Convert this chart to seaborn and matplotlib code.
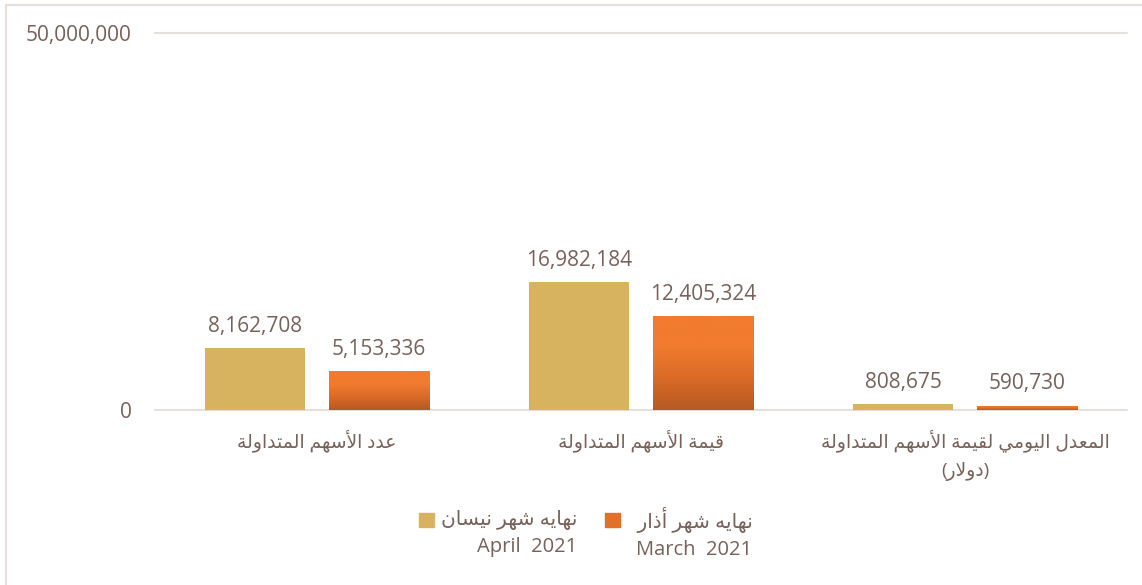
import numpy as np
import pandas as pd
import seaborn as sns
import matplotlib.pyplot as plt
import matplotlib.patches as mpatches
from matplotlib.lines import Line2D
from matplotlib.colors import LinearSegmentedColormap
from matplotlib.legend_handler import HandlerPatch

# data
categories = ['عدد الأسهم المتداولة',
              'قيمة الأسهم المتداولة',
              'المعدل اليومي لقيمة الأسهم المتداولة\n(دولار)']
april_values = [8162708, 16982184, 808675]
march_values = [5153336, 12405324, 590730]
series_ar = ['نهايه شهر نيسان', 'نهايه شهر أذار  ']
series_en = ['April  2021', 'March  2021']
yticks = [0, 50000000]

TXT = '#76625a'
GRID = '#e6e0dc'
GOLD = '#d8b35f'
ORANGE_TOP = '#f17b2f'
ORANGE_BOT = '#b55a22'

# --- minimal arabic shaping (no reshaper lib in the sandbox) ---
FORMS = {
    'ا': ('\uFE8D', '\uFE8E', None, None),
    'أ': ('\uFE83', '\uFE84', None, None),
    'د': ('\uFEA9', '\uFEAA', None, None),
    'ذ': ('\uFEAB', '\uFEAC', None, None),
    'ر': ('\uFEAD', '\uFEAE', None, None),
    'و': ('\uFEED', '\uFEEE', None, None),
    'ة': ('\uFE93', '\uFE94', None, None),
    'ع': ('\uFEC9', '\uFECA', '\uFECB', '\uFECC'),
    'ل': ('\uFEDD', '\uFEDE', '\uFEDF', '\uFEE0'),
    'س': ('\uFEB1', '\uFEB2', '\uFEB3', '\uFEB4'),
    'ش': ('\uFEB5', '\uFEB6', '\uFEB7', '\uFEB8'),
    'ه': ('\uFEE9', '\uFEEA', '\uFEEB', '\uFEEC'),
    'م': ('\uFEE1', '\uFEE2', '\uFEE3', '\uFEE4'),
    'ت': ('\uFE95', '\uFE96', '\uFE97', '\uFE98'),
    'ق': ('\uFED5', '\uFED6', '\uFED7', '\uFED8'),
    'ي': ('\uFEF1', '\uFEF2', '\uFEF3', '\uFEF4'),
    'ن': ('\uFEE5', '\uFEE6', '\uFEE7', '\uFEE8'),
    '\uE001': ('\uFEF7', '\uFEF8', None, None),  # lam-alef hamza
    '\uE002': ('\uFEFB', '\uFEFC', None, None),  # lam-alef
}


def shape_line(s):
    s = s.replace('لأ', '\uE001').replace('لا', '\uE002')
    out = []
    for i, c in enumerate(s):
        if c not in FORMS:
            out.append(c)
            continue
        prev = s[i - 1] if i > 0 else ''
        nxt = s[i + 1] if i + 1 < len(s) else ''
        jp = prev in FORMS and FORMS[prev][2] is not None
        jn = FORMS[c][2] is not None and nxt in FORMS
        iso, fin, ini, med = FORMS[c]
        out.append(med if (jp and jn) else fin if jp else ini if jn else iso)
    vis = ''.join(reversed(out))
    return vis.translate(str.maketrans('()', ')('))


def shape(s):
    return '\n'.join(shape_line(l) for l in s.split('\n'))


sns.set_style('white')
plt.rcParams['font.family'] = ['Open Sans', 'DejaVu Sans']

df = pd.DataFrame({
    'cat': categories * 2,
    'series': [series_en[0]] * 3 + [series_en[1]] * 3,
    'value': april_values + march_values,
})

fig = plt.figure(figsize=(11.42, 5.85), dpi=100)
ax = fig.add_axes([155 / 1142, 1 - 410 / 585, 972 / 1142, 377 / 585])

sns.barplot(data=df, x='cat', y='value', hue='series', hue_order=series_en,
            palette=[GOLD, ORANGE_TOP], saturation=1, width=0.765, gap=0.19,
            linewidth=0, legend=False, ax=ax)

# gradient fill for the march bars
cmap = LinearSegmentedColormap.from_list('og', [ORANGE_BOT, '#d96a27', ORANGE_TOP, ORANGE_TOP])
grad = np.linspace(0, 1, 256).reshape(-1, 1)
for bar in ax.containers[1]:
    x0, w, h = bar.get_x(), bar.get_width(), bar.get_height()
    im = ax.imshow(grad, extent=[x0, x0 + w, 0, h], origin='lower', aspect='auto',
                   cmap=cmap, zorder=bar.get_zorder() + 0.1)
    im.set_clip_path(bar)

for cont in ax.containers:
    ax.bar_label(cont, fmt='{:,.0f}', padding=8, fontsize=15, color=TXT)

ax.set_xlim(-0.5, 2.5)
ax.set_ylim(0, 50000000)
ax.set_yticks(yticks)
ax.set_yticklabels([f'{v:,}' for v in yticks])
ax.set_xticks(range(len(categories)))
ax.set_xticklabels([shape(c) for c in categories], linespacing=1.7)
ax.tick_params(axis='both', length=0, labelsize=15, labelcolor=TXT)
ax.tick_params(axis='y', pad=17)
ax.tick_params(axis='x', pad=14, labelsize=13.5)
ax.set_xlabel('')
ax.set_ylabel('')
for sp in ax.spines.values():
    sp.set_visible(False)
ax.yaxis.grid(True, color=GRID, lw=1.5)
for gl in ax.get_ygridlines():
    gl.set_clip_on(False)
ax.set_axisbelow(True)


# legend squares sit on the first text line
def top_square(legend, orig_handle, xdescent, ydescent, width, height, fontsize):
    return mpatches.Rectangle((-xdescent, -ydescent + 0.68 * fontsize), width, height)


handles = [mpatches.Patch(color=GOLD), mpatches.Patch(color='#e0702a')]
labels = [shape(a) + '\n' + e for a, e in zip(series_ar, series_en)]
leg = fig.legend(handles, labels, loc='upper center', bbox_to_anchor=(0.513, 0.165),
                 ncol=2, frameon=False, fontsize=14.5, handlelength=0.72, handleheight=0.72,
                 handletextpad=0.35, columnspacing=1.4,
                 handler_map={mpatches.Patch: HandlerPatch(patch_func=top_square)})
for t in leg.get_texts():
    t.set_color(TXT)
    t.set_multialignment('right')
    t.set_linespacing(1.5)

# outer frame (top + left visible in the reference)
fig.add_artist(Line2D([6 / 1142, 1], [1 - 5 / 585, 1 - 5 / 585], transform=fig.transFigure,
                      color=GRID, lw=1.5))
fig.add_artist(Line2D([6 / 1142, 6 / 1142], [0, 1 - 5 / 585], transform=fig.transFigure,
                      color=GRID, lw=1.5))

fig.savefig('out.png', dpi=100)
